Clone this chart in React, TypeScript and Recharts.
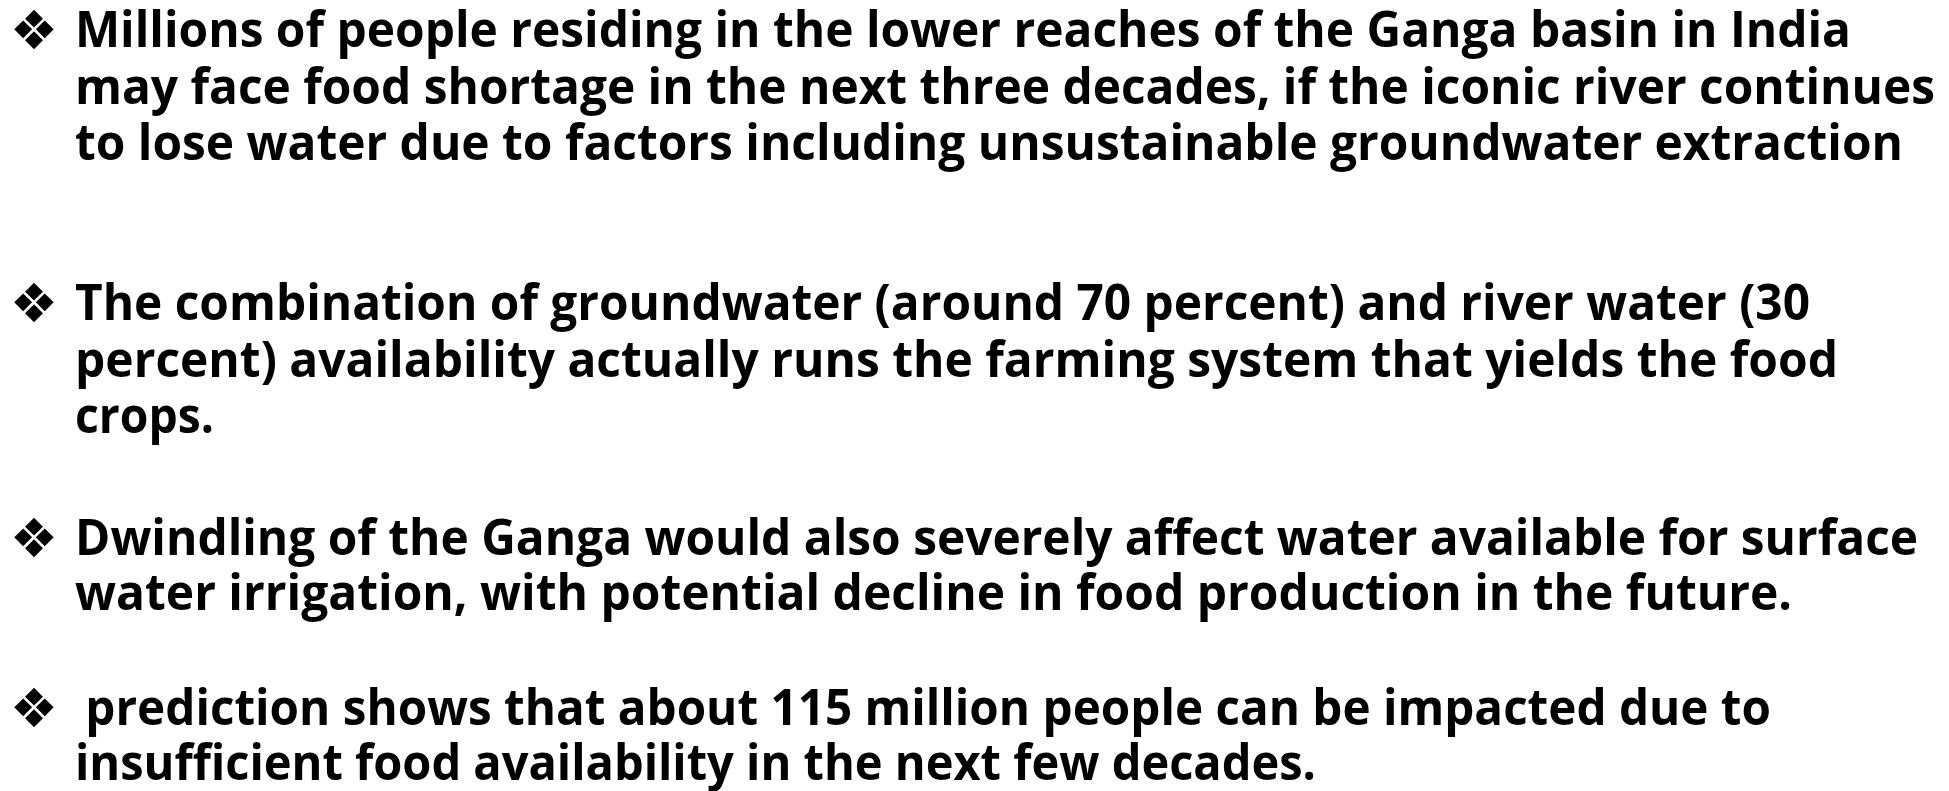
import { Surface } from "recharts";

// slide text, one array per bullet, one entry per rendered line
const bulletOne = [
  "Millions of people residing in the lower reaches of the Ganga basin in India",
  "may face food shortage in the next three decades, if the iconic river continues",
  "to lose water due to factors including unsustainable groundwater extraction",
];
const bulletTwo = [
  "The combination of groundwater (around 70 percent) and river water (30",
  "percent) availability actually runs the farming system that yields the food",
  "crops.",
];
const bulletThree = [
  "Dwindling of the Ganga would also severely affect water available for surface",
  "water irrigation, with potential decline in food production in the future.",
];
const bulletFour = [
  " prediction shows that about 115 million people can be impacted due to",
  "insufficient food availability in the next few decades.",
];

const bullets = [bulletOne, bulletTwo, bulletThree, bulletFour];

// layout
const baselines = [
  [47, 103.5, 160],
  [320, 377, 433],
  [555, 610],
  [725, 780],
];
const lineStarts = [
  [75, 75, 75],
  [75, 75, 75],
  [75, 75],
  [73, 75],
];
const lineEnds = [
  [1851, 1935, 1903],
  [1810, 1838, 214],
  [1918, 1792],
  [1771, 1316],
];

const W = 1949;
const H = 791;
const BULLET_X = 34;

const font = "'Open Sans', 'Noto Sans', sans-serif";

export default function App() {
  return (
    <div style={{ position: "absolute", left: 0, top: 0, width: W, height: H, background: "#fff" }}>
      <Surface width={W} height={H}>
        {bullets.map((lines, i) => (
          <g key={i}>
            <text
              x={BULLET_X}
              y={baselines[i][0] - 17}
              textAnchor="middle"
              dominantBaseline="central"
              fontFamily="'DejaVu Sans', sans-serif"
              fontSize={54}
              fill="#000"
            >
              ❖
            </text>
            {lines.map((line, j) => (
              <text
                key={j}
                x={lineStarts[i][j]}
                y={baselines[i][j]}
                fontFamily={font}
                fontWeight={700}
                fontSize={50}
                fill="#000"
                textLength={lineEnds[i][j] - lineStarts[i][j]}
                lengthAdjust="spacingAndGlyphs"
                style={{ whiteSpace: "pre" }}
              >
                {line}
              </text>
            ))}
          </g>
        ))}
      </Surface>
    </div>
  );
}
